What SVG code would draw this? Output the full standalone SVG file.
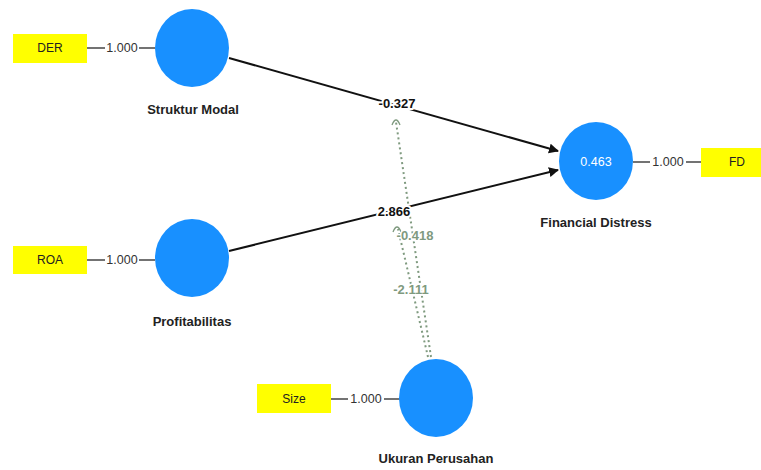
<svg xmlns="http://www.w3.org/2000/svg" width="761" height="470" viewBox="0 0 761 470">
<style>
.ind{fill:#ffff00}
.lv{fill:#1890ff}
.t{font-family:"Liberation Sans",Arial,sans-serif;font-size:12px;fill:#222;text-anchor:middle}
.lab{font-family:"Liberation Sans",Arial,sans-serif;font-size:13px;font-weight:bold;fill:#222;text-anchor:middle}
.ld{font-family:"Liberation Sans",Arial,sans-serif;font-size:12.5px;fill:#333;text-anchor:middle}
.coef{font-family:"Liberation Sans",Arial,sans-serif;font-size:13px;font-weight:bold;fill:#111;text-anchor:middle;stroke:#fff;stroke-width:4px;paint-order:stroke;stroke-linejoin:round}
.mcoef{font-family:"Liberation Sans",Arial,sans-serif;font-size:13px;font-weight:bold;fill:#7f9a7f;text-anchor:middle;stroke:#fff;stroke-width:3px;paint-order:stroke}
.path{stroke:#111;stroke-width:2;fill:none;marker-end:url(#ah)}
.mod{stroke:#7f9a7f;stroke-width:2;stroke-dasharray:2 3;fill:none}
.arc{stroke:#7f9a7f;stroke-width:1.3;fill:none}
.ln{stroke:#444;stroke-width:1.5}
</style>
<defs>
<marker id="ah" markerWidth="10" markerHeight="10" refX="9" refY="5" orient="auto" markerUnits="userSpaceOnUse">
<path d="M0,0 L10,5 L0,10 Z" fill="#111"/>
</marker>
</defs>
<g id="connectors">
<line class="ln" x1="87" y1="48" x2="105" y2="48"/>
<line class="ln" x1="139" y1="48" x2="155" y2="48"/>
<line class="ln" x1="87" y1="260" x2="105" y2="260"/>
<line class="ln" x1="139" y1="260" x2="155" y2="260"/>
<line class="ln" x1="331" y1="399" x2="348" y2="399"/>
<line class="ln" x1="384" y1="399" x2="400" y2="399"/>
<line class="ln" x1="633" y1="162" x2="650" y2="162"/>
<line class="ln" x1="686" y1="162" x2="701" y2="162"/>
<path class="path" d="M229,58 L558,151"/>
<path class="path" d="M229,251 L558,170"/>
<path class="mod" d="M431,357 L396,122"/>
<path class="mod" d="M428,357 L398,229"/>
<path class="arc" d="M392,125 Q396,115 400,125"/>
<path class="arc" d="M393,232 Q397,222 401,232"/>
<text class="coef" x="397" y="108">-0.327</text>
<text class="coef" x="394" y="216">2.866</text>
<text class="mcoef" x="415" y="240">-0.418</text>
<text class="mcoef" x="411" y="294">-2.111</text>
<text class="ld" x="122" y="52">1.000</text>
<text class="ld" x="122" y="264">1.000</text>
<text class="ld" x="366" y="403">1.000</text>
<text class="ld" x="668" y="166">1.000</text>
</g>
<g id="DER"><rect class="ind" x="13" y="34" width="74" height="29"/><text class="t" x="50" y="52">DER</text></g>
<g id="ROA"><rect class="ind" x="13" y="246" width="74" height="28"/><text class="t" x="50" y="264">ROA</text></g>
<g id="Size"><rect class="ind" x="257" y="384" width="74" height="29"/><text class="t" x="294" y="403">Size</text></g>
<g id="FD"><rect class="ind" x="701" y="148" width="60" height="29"/><text class="t" x="737" y="166">FD</text></g>
<g id="StrukturModal"><ellipse class="lv" cx="192" cy="48" rx="37" ry="39"/><text class="lab" x="193" y="114">Struktur Modal</text></g>
<g id="Profitabilitas"><ellipse class="lv" cx="192" cy="258" rx="37" ry="39"/><text class="lab" x="192" y="326">Profitabilitas</text></g>
<g id="UkuranPerusahan"><ellipse class="lv" cx="436" cy="398" rx="37" ry="39"/><text class="lab" x="436" y="463">Ukuran Perusahan</text></g>
<g id="FinancialDistress"><ellipse class="lv" cx="596" cy="161" rx="37" ry="39"/><text x="596" y="166" style="font-family:'Liberation Sans',Arial,sans-serif;font-size:12.5px;fill:#fff;text-anchor:middle">0.463</text><text class="lab" x="596" y="227">Financial Distress</text></g>
</svg>
